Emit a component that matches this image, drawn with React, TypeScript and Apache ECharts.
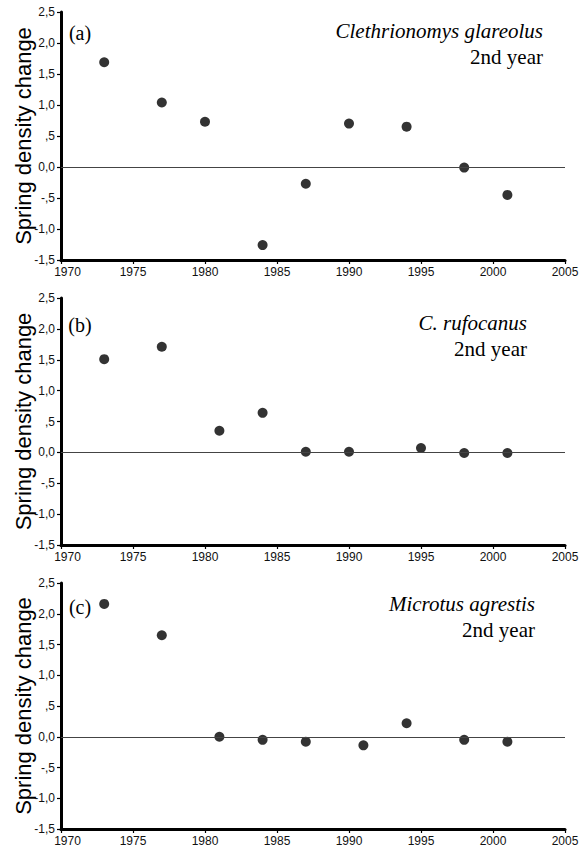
import React, { useEffect, useRef } from "react";
import * as echarts from "echarts";

const yearsA = [1973, 1977, 1980, 1984, 1987, 1990, 1994, 1998, 2001];
const valuesA = [1.69, 1.04, 0.73, -1.26, -0.27, 0.7, 0.65, -0.01, -0.45];

const yearsB = [1973, 1977, 1981, 1984, 1987, 1990, 1995, 1998, 2001];
const valuesB = [1.51, 1.71, 0.35, 0.64, 0.01, 0.01, 0.07, -0.01, -0.01];

const yearsC = [1973, 1977, 1981, 1984, 1987, 1991, 1994, 1998, 2001];
const valuesC = [2.16, 1.65, 0.0, -0.05, -0.08, -0.14, 0.22, -0.05, -0.08];

const yTickValues = [-1.5, -1, -0.5, 0, 0.5, 1, 1.5, 2, 2.5];
const yTickLabels = ["-1,5", "-1,0", "-,5", "0,0", ",5", "1,0", "1,5", "2,0", "2,5"];
const xTickLabels = ["1970", "1975", "1980", "1985", "1990", "1995", "2000", "2005"];

const panelLetters = ["(a)", "(b)", "(c)"];
const speciesNames = ["Clethrionomys glareolus", "C. rufocanus", "Microtus agrestis"];
const subtitle = "2nd year";
const yAxisTitle = "Spring density change";

const panels = [
  { years: yearsA, values: valuesA, top: 12, height: 248, speciesRight: 543, speciesY: 31, letterY: 33 },
  { years: yearsB, values: valuesB, top: 298, height: 247, speciesRight: 527, speciesY: 323, letterY: 325 },
  { years: yearsC, values: valuesC, top: 583, height: 246, speciesRight: 535, speciesY: 604, letterY: 607 },
];

export default function App() {
  const ref = useRef<HTMLDivElement>(null);
  useEffect(() => {
    document.body.style.margin = "0";
    if (!ref.current) return;
    const chart = echarts.init(ref.current, undefined, { renderer: "svg" });
    const grids: any[] = [];
    const xAxes: any[] = [];
    const yAxes: any[] = [];
    const series: any[] = [];
    const graphics: any[] = [];
    panels.forEach((p, i) => {
      grids.push({ left: 61, right: 21, top: p.top, height: p.height });
      xAxes.push({
        type: "value",
        gridIndex: i,
        min: 1970,
        max: 2005,
        interval: 5,
        splitLine: { show: false },
        axisLine: { show: true, onZero: false, lineStyle: { color: "#000", width: 3 } },
        axisTick: { show: true, length: 4, lineStyle: { color: "#000", width: 1.2 } },
        axisLabel: {
          margin: 6,
          fontFamily: "Liberation Sans",
          fontSize: 12,
          color: "#111",
          formatter: (v: number) => {
            const idx = Math.round((v - 1970) / 5);
            const s = xTickLabels[idx] ?? String(v);
            return idx === 0 ? "{first|" + s + "}" : s;
          },
          rich: {
            first: { padding: [0, 0, 0, 13], fontFamily: "Liberation Sans", fontSize: 12, color: "#111" },
          },
        },
      });
      yAxes.push({
        type: "value",
        gridIndex: i,
        min: -1.5,
        max: 2.5,
        interval: 0.5,
        splitLine: { show: false },
        axisLine: { show: true, lineStyle: { color: "#000", width: 3 } },
        axisTick: { show: true, length: 4, lineStyle: { color: "#000", width: 1.2 } },
        axisLabel: {
          margin: 6,
          fontFamily: "Liberation Sans",
          fontSize: 12,
          color: "#111",
          formatter: (v: number) => {
            const idx = yTickValues.findIndex((t) => Math.abs(t - v) < 1e-6);
            return idx >= 0 ? yTickLabels[idx] : String(v);
          },
        },
      });
      series.push({
        type: "scatter",
        xAxisIndex: i,
        yAxisIndex: i,
        symbol: "circle",
        symbolSize: 10,
        itemStyle: { color: "#000" },
        data: p.years.map((y, k) => [y, p.values[k]]),
        markLine: {
          silent: true,
          symbol: "none",
          label: { show: false },
          lineStyle: { color: "#444", width: 1, type: "solid" },
          data: [{ yAxis: 0 }],
        },
        z: 3,
      });
      graphics.push({
        type: "text",
        x: 23,
        y: p.top + p.height / 2,
        rotation: Math.PI / 2,
        style: {
          text: yAxisTitle,
          fontFamily: "Liberation Sans",
          fontSize: 22,
          fill: "#000",
          textAlign: "center",
          textVerticalAlign: "middle",
        },
      });
      graphics.push({
        type: "text",
        x: 80,
        y: p.letterY,
        style: {
          text: panelLetters[i],
          fontFamily: "Liberation Serif",
          fontSize: 20,
          fill: "#000",
          textAlign: "center",
          textVerticalAlign: "middle",
        },
      });
      graphics.push({
        type: "text",
        x: p.speciesRight,
        y: p.speciesY,
        style: {
          text: speciesNames[i],
          fontFamily: "Liberation Serif",
          fontStyle: "italic",
          fontSize: 21,
          fill: "#000",
          textAlign: "right",
          textVerticalAlign: "middle",
        },
      });
      graphics.push({
        type: "text",
        x: p.speciesRight,
        y: p.speciesY + 26,
        style: {
          text: subtitle,
          fontFamily: "Liberation Serif",
          fontSize: 21,
          fill: "#000",
          textAlign: "right",
          textVerticalAlign: "middle",
        },
      });
    });
    chart.setOption({
      animation: false,
      backgroundColor: "#fff",
      grid: grids,
      xAxis: xAxes,
      yAxis: yAxes,
      series,
      graphic: graphics,
    });
    return () => chart.dispose();
  }, []);
  return <div ref={ref} style={{ width: 586, height: 851 }} />;
}
